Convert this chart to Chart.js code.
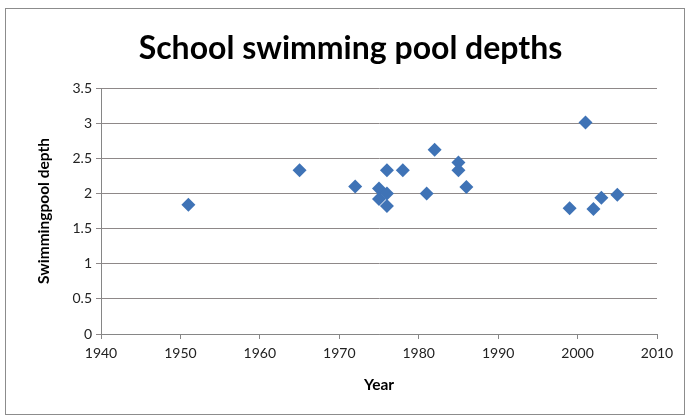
<!DOCTYPE html>
<html lang="en">
<head>
    <meta charset="UTF-8">
    <script src="https://cdn.jsdelivr.net/npm/chart.js"></script>
    <title>School swimming pool depths</title>
    <style>
        body { margin: 0; background: #fff; }
        #wrap { position: relative; width: 688px; height: 418px; }
        #frame { position: absolute; left: 5px; top: 8px; width: 678px; height: 405px; border: 1px solid #8c8c8c; pointer-events: none; }
    </style>
</head>
<body>
    <div id="wrap">
        <canvas id="myChart" width="688" height="418"></canvas>
        <div id="frame"></div>
    </div>

    <script>
        // years and depths
        const years  = [1951, 1965, 1972, 1975, 1975, 1976, 1976, 1976, 1978, 1981, 1982, 1985, 1985, 1986, 1999, 2001, 2002, 2003, 2005];
        const depths = [1.84, 2.33, 2.10, 2.07, 1.92, 2.33, 2.00, 1.82, 2.33, 2.00, 2.62, 2.44, 2.33, 2.09, 1.79, 3.01, 1.78, 1.94, 1.98];
        const xTicks = [1940, 1950, 1960, 1970, 1980, 1990, 2000, 2010];

        const points = years.map(function(y, i) {
            return { x: y, y: depths[i] };
        });

        const font = "Lato";

        new Chart("myChart", {
            type: 'scatter',
            data: {
                datasets: [{
                    label: 'Depth',
                    data: points,
                    pointStyle: 'rectRot',
                    pointRadius: 7,
                    pointHoverRadius: 7,
                    backgroundColor: '#3f73b6',
                    borderColor: '#3f73b6',
                    borderWidth: 0
                }]
            },
            options: {
                responsive: false,
                animation: false,
                // left padding pushes the title centre right, like the original
                layout: { padding: { left: 44, right: 31, top: 0, bottom: 24 } },
                plugins: {
                    legend: { display: false },
                    tooltip: { enabled: false },
                    title: {
                        display: true,
                        text: 'School swimming pool depths',
                        color: '#000',
                        font: { family: font, size: 32, weight: 'bold' },
                        padding: { top: 29, bottom: 20.6 }
                    }
                },
                scales: {
                    x: {
                        type: 'linear',
                        min: 1940,
                        max: 2010,
                        afterBuildTicks: function(scale) {
                            scale.ticks = xTicks.map(function(v) { return { value: v }; });
                        },
                        afterFit: function(scale) { scale.height = 60; },
                        grid: { drawOnChartArea: false, tickLength: 5, color: '#868686' },
                        border: { color: '#868686', width: 1 },
                        ticks: {
                            color: '#222',
                            font: { family: font, size: 14 },
                            padding: 6,
                            maxRotation: 0,
                            callback: function(v) { return String(v); }
                        },
                        title: {
                            display: true,
                            text: 'Year',
                            color: '#000',
                            font: { family: font, size: 15.5, weight: 'bold' },
                            padding: { top: 4, bottom: 0 }
                        }
                    },
                    y: {
                        min: 0,
                        max: 3.5,
                        afterFit: function(scale) { scale.width = 57; },
                        grid: { color: '#8e8888', tickLength: 5 },
                        border: { color: '#868686', width: 1 },
                        ticks: {
                            stepSize: 0.5,
                            color: '#222',
                            font: { family: font, size: 14 },
                            padding: 4,
                            callback: function(v) { return String(v); }
                        },
                        title: {
                            display: true,
                            text: 'Swimmingpool depth',
                            color: '#000',
                            font: { family: font, size: 15.5, weight: 'bold' },
                            padding: { top: -9 }
                        }
                    }
                }
            }
        });
    </script>
</body>
</html>
